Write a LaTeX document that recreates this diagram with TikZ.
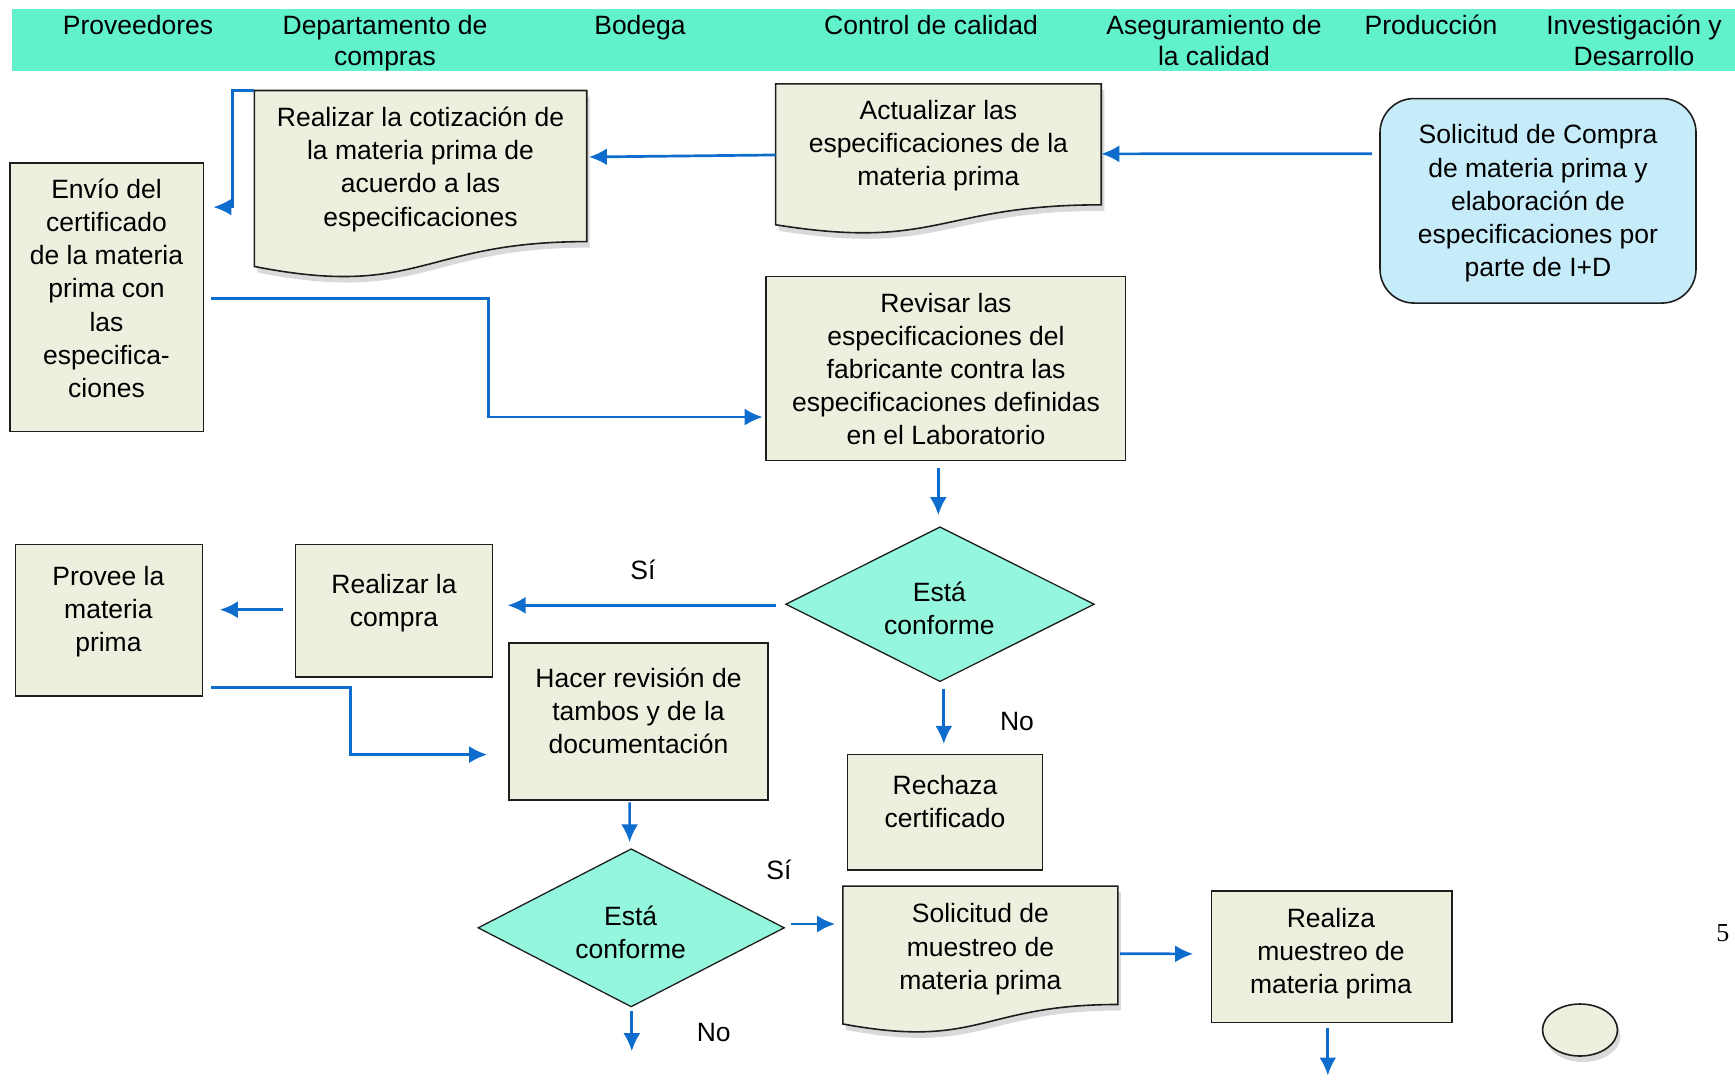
\documentclass[tikz,border=0pt]{standalone}
\usepackage{fontspec}
\setmainfont{Liberation Sans}
\newfontfamily\serifnum{Liberation Serif}
\usetikzlibrary{calc,shapes.geometric,arrows.meta,shadows}
\definecolor{band}{RGB}{97,242,204}
\definecolor{boxfill}{RGB}{235,241,222}
\definecolor{dfill}{RGB}{148,246,220}
\definecolor{solfill}{RGB}{198,236,250}
\definecolor{arrowblue}{RGB}{14,108,204}
\definecolor{edge}{RGB}{30,30,30}
\newcommand\docpath[1]{%
  \draw[docshape] (#1.north west) -- (#1.north east) -- ($(#1.north east)!0.802!(#1.south east)$)
  .. controls ($(#1.north)!0.802!(#1.south)$) and ($(#1.north)!1.1075!(#1.south)$) ..
  ($(#1.north west)!0.934!(#1.south west)$) -- cycle;}
\begin{document}
\begin{tikzpicture}[x=1pt,y=-1pt,
  box/.style={draw=edge,line width=1.6pt,fill=boxfill,rectangle,inner sep=0pt},
  frame/.style={rectangle,inner sep=0pt,draw=none},
  docshape/.style={draw=edge,line width=1.6pt,fill=boxfill,drop shadow={opacity=0.3,shadow xshift=3pt,shadow yshift=-6pt}},
  txt/.style={align=center,font=\fontsize{26.5}{33.2}\selectfont,inner sep=0pt,anchor=north},
  head/.style={align=center,font=\fontsize{26.5}{31}\selectfont,inner sep=0pt,anchor=north},
  dia/.style={diamond,draw=edge,line width=1.3pt,fill=dfill,inner sep=0pt},
  arr/.style={draw=arrowblue,line width=2.7pt,-{Latex[length=18pt,width=17pt]}},
  lbl/.style={font=\fontsize{26.5}{31}\selectfont,inner sep=0pt}]
\useasboundingbox (0,0) rectangle (1735,1080);
% header band
\fill[band] (12,9) rectangle (1735,71);
\node[head] (h1) at (138,14.8) {Proveedores};
\node[head] (h2) at (385,14.8) {Departamento de\\compras};
\node[head] (h3) at (640,14.8) {Bodega};
\node[head] (h4) at (931,14.8) {Control de calidad};
\node[head] (h5) at (1214,14.8) {Aseguramiento de\\la calidad};
\node[head] (h6) at (1431,14.8) {Producción};
\node[head] (h7) at (1634,14.8) {Investigación y\\Desarrollo};
% document frames
\node[frame,minimum width=332pt,minimum height=188pt] (cot) at (420.5,184.7) {};
\node[frame,minimum width=325.3pt,minimum height=150.5pt] (act) at (938.4,159.25) {};
\node[frame,minimum width=274.6pt,minimum height=147.2pt] (mue) at (980.3,959.9) {};
\docpath{cot}
\docpath{act}
\docpath{mue}
% boxes
\node[box,minimum width=316pt,minimum height=204.5pt,fill=solfill,rounded corners=34pt] (sol) at (1538,200.8) {};
\node[box,minimum width=193.6pt,minimum height=268.8pt] (env) at (106.8,297.1) {};
\node[box,minimum width=359.6pt,minimum height=183.7pt] (rev) at (945.5,368.45) {};
\node[box,minimum width=187pt,minimum height=151.6pt] (prov) at (109,620.2) {};
\node[box,minimum width=197pt,minimum height=132.8pt] (comp) at (393.9,610.8) {};
\node[box,minimum width=259pt,minimum height=157pt] (hac) at (638.5,721.5) {};
\node[box,minimum width=194.7pt,minimum height=115.1pt] (rech) at (945,812.2) {};
\node[box,minimum width=240.2pt,minimum height=131.7pt] (real) at (1331.7,956.6) {};
\node[dia,minimum width=308.7pt,minimum height=154.9pt] (d1) at (940,604.2) {};
\node[dia,minimum width=306.5pt,minimum height=158.2pt] (d2) at (631.2,927.8) {};
\node[ellipse,draw=edge,line width=1.6pt,fill=boxfill,minimum width=75pt,minimum height=52pt,inner sep=0pt,
  drop shadow={opacity=0.3,shadow xshift=3pt,shadow yshift=-6pt}] (conn) at (1580,1030) {};
% texts
\node[txt] (tcot) at (420.5,106.7) {Realizar la cotización de\\la materia prima de\\acuerdo a las\\especificaciones};
\node[txt] (tact) at (938.4,100) {Actualizar las\\especificaciones de la\\materia prima};
\node[txt] (tsol) at (1538,124.4) {Solicitud de Compra\\de materia prima y\\elaboración de\\especificaciones por\\parte de I+D};
\node[txt] (tenv) at (106.5,178.6) {Envío del\\certificado\\de la materia\\prima con\\las\\especifica-\\ciones};
\node[txt] (trev) at (946,292.6) {Revisar las\\especificaciones del\\fabricante contra las\\especificaciones definidas\\en el Laboratorio};
\node[txt] (td1) at (939.4,581.4) {Está\\conforme};
\node[txt] (tprov) at (108.4,565.9) {Provee la\\materia\\prima};
\node[txt] (tcomp) at (394,573.6) {Realizar la\\compra};
\node[txt] (thac) at (638.5,667.7) {Hacer revisión de\\tambos y de la\\documentación};
\node[txt] (trech) at (945,775) {Rechaza\\certificado};
\node[txt] (td2) at (630.7,905.6) {Está\\conforme};
\node[txt] (tmue) at (980.4,903.4) {Solicitud de\\muestreo de\\materia prima};
\node[txt] (treal) at (1331,907.8) {Realiza\\muestreo de\\materia prima};
% labels
\node[lbl] (l1) at (643,570) {Sí};
\node[lbl] (l2) at (1017,721.4) {No};
\node[lbl] (l3) at (779,869.7) {Sí};
\node[lbl] (l4) at (713.7,1032.4) {No};
\node[inner sep=0pt,font=\serifnum\fontsize{26}{30}\selectfont] (pg) at (1722.8,932.8) {5};
% free ends
\coordinate (e12) at (631.8,1051.2);
\coordinate (e14) at (1327.8,1075.5);
% connectors
\draw[arr] ($(sol.west)+(-7,-47)$) -- ($(act.east)+(0,-5.4)$);
\draw[arr] ($(act.west)+(0,-4.3)$) -- ($(cot.east)+(2.2,-27.7)$);
\draw[arr] (cot.north west) -- ++(-22,0) |- ($(env.east)+(9,-90)$);
\draw[arr] ($(env.east)+(6.6,1.7)$) -- ++(277.8,0) |- ($(rev.west)+(-2.2,48.6)$);
\draw[arr] ($(rev.south)+(-7.2,6.7)$) -- ($(d1.north)+(-1.7,-11)$);
\draw[arr] ($(d1.west)+(-8.8,1.1)$) -- ($(comp.east)+(14.4,-5.5)$);
\draw[arr] ($(d1.south)+(3.8,6.55)$) -- ($(rech.north)+(-1.2,-9.9)$);
\draw[arr] ($(comp.west)+(-12.1,-1.1)$) -- ($(prov.east)+(16.5,-10.5)$);
\draw[arr] ($(prov.east)+(7.7,67)$) -- ++(139.5,0) |- ($(hac.west)+(-21,33.1)$);
\draw[arr] ($(hac.south)+(-8.9,1.5)$) -- ($(d2.north)+(-1.6,-5.7)$);
\draw[arr] ($(d2.east)+(5.55,-3.8)$) -- ($(mue.west)+(-7.6,-35.9)$);
\draw[arr] ($(d2.south)+(0.6,3.6)$) -- (e12);
\draw[arr] ($(mue.east)+(2.2,-6.1)$) -- ($(real.west)+(-17.6,-2.75)$);
\draw[arr] ($(real.south)+(-3.9,4.6)$) -- (e14);
\end{tikzpicture}
\end{document}
